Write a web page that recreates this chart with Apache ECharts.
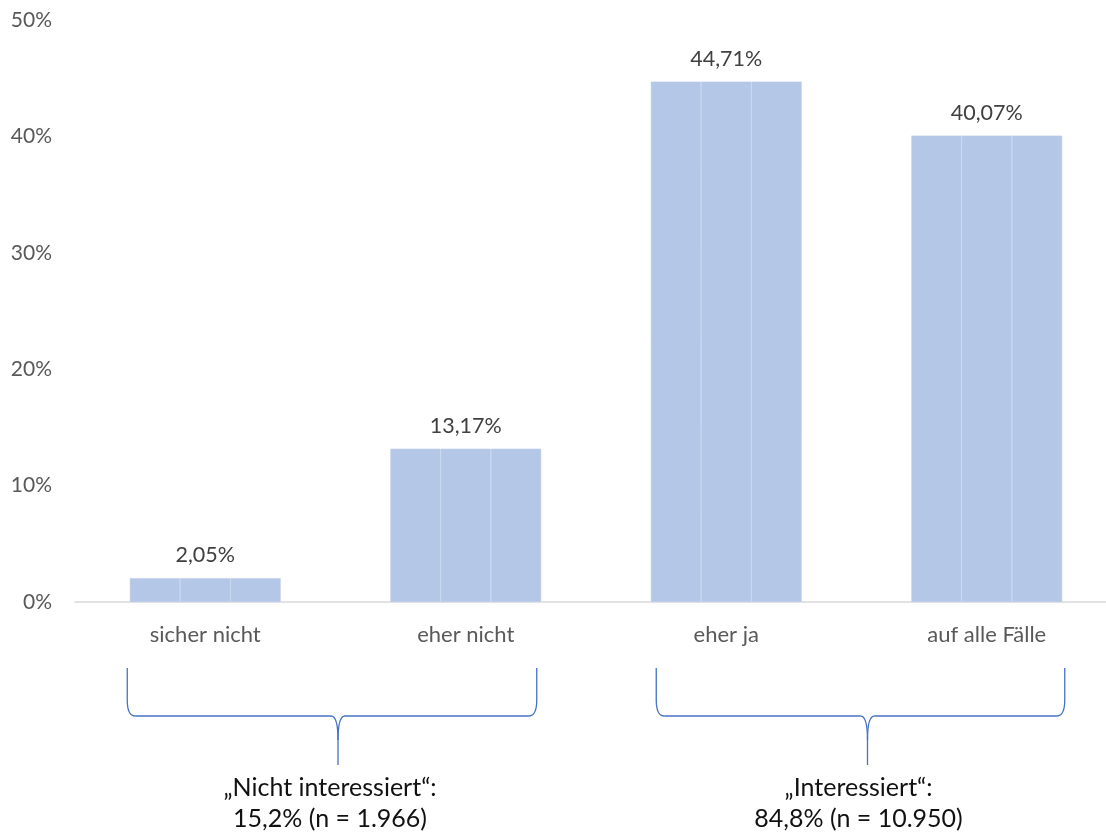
<!doctype html>
<html lang="de">
<head>
<meta charset="utf-8" />
<title>Interesse</title>
<script src="https://cdn.jsdelivr.net/npm/echarts@6/dist/echarts.min.js"></script>
<style>
  html, body { margin: 0; padding: 0; background: #fff; overflow: hidden; }
  /* etwas breiter als das Fenster: das Original ist rechts abgeschnitten */
  #main { width: 1117px; height: 834px; }
</style>
</head>
<body>
<div id="main"></div>
<script>
// Antwortkategorien und Anteile in %
var categories = ['sicher nicht', 'eher nicht', 'eher ja', 'auf alle Fälle'];
var values = [2.05, 13.17, 44.71, 40.07];
var yTicks = [0, 10, 20, 30, 40, 50];

// Zusammenfassungen unter der Achse (Klammern)
var groupFrom = [0, 2];
var groupTo = [1, 3];
var groupLine1 = ['\u201ENicht interessiert\u201C:', '\u201EInteressiert\u201C:'];
var groupLine2 = ['15,2% (n = 1.966)', '84,8% (n = 10.950)'];

var font = 'Lato, "Open Sans", sans-serif';
var barColor = '#b4c7e7';

function pct(v) {
  return v.toFixed(2).replace('.', ',') + '%';
}

var myChart = echarts.init(document.getElementById('main'));

// ein Balken aus drei schmalen Teilen (wie im Original sichtbar)
var series = [];
for (var i = 0; i < 3; i++) {
  series.push({
    type: 'bar',
    data: values,
    barWidth: 50.3,
    barGap: '0%',
    animation: false,
    itemStyle: { color: barColor, borderColor: '#bfd0ec', borderWidth: 0.6 },
    label: {
      show: i == 1,
      position: 'top',
      distance: 12,
      color: '#404040',
      fontSize: 21.5,
      fontFamily: font,
      formatter: function (p) { return pct(p.value); }
    }
  });
}

myChart.setOption({
  animation: false,
  grid: { left: 75, right: 0, top: 20, bottom: 232, containLabel: false },
  xAxis: {
    type: 'category',
    data: categories,
    axisLine: { lineStyle: { color: '#d9d9d9', width: 1.5 } },
    axisTick: { show: false },
    axisLabel: { color: '#595959', fontSize: 22, fontFamily: font, margin: 22 }
  },
  yAxis: {
    type: 'value',
    min: yTicks[0],
    max: yTicks[yTicks.length - 1],
    interval: 10,
    splitLine: { show: false },
    axisLine: { show: false },
    axisTick: { show: false },
    axisLabel: {
      color: '#595959', fontSize: 21, fontFamily: font, margin: 23,
      formatter: function (v) { return v + '%'; }
    }
  },
  series: series
});

// Klammern + Beschriftung unter den Kategorien
var braceStyle = { fill: null, stroke: '#4472c4', lineWidth: 1.3 };
var braceLeftOff = [-78, -70];
var braceRightOff = [71, 78];
var braceTipOff = [6, 7];

function braceParts(x1, x2, m, yTop, yMid, yTip) {
  var d = 24;
  function line(a, b, c, e) {
    return { type: 'line', shape: { x1: a, y1: b, x2: c, y2: e }, style: braceStyle };
  }
  function curve(a, b, c, e, p1, p2, p3, p4) {
    return { type: 'bezierCurve', shape: { x1: a, y1: b, x2: c, y2: e, cpx1: p1, cpy1: p2, cpx2: p3, cpy2: p4 }, style: braceStyle };
  }
  return [
    line(x1, yTop, x1, yMid - 16),
    curve(x1, yMid - 16, x1 + 8, yMid, x1, yMid - 6, x1 + 2, yMid),
    line(x1 + 8, yMid, m - 7, yMid),
    curve(m - 7, yMid, m, yMid + d, m - 2, yMid, m, yMid + 8),
    line(m, yMid + d, m, yTip),
    curve(m, yMid + d, m + 7, yMid, m, yMid + 8, m + 2, yMid),
    line(m + 7, yMid, x2 - 8, yMid),
    curve(x2 - 8, yMid, x2, yMid - 16, x2 - 2, yMid, x2, yMid - 6),
    line(x2, yMid - 16, x2, yTop)
  ];
}

var graphics = [];
for (var g = 0; g < groupFrom.length; g++) {
  var xa = myChart.convertToPixel({ xAxisIndex: 0 }, groupFrom[g]) + braceLeftOff[g];
  var xb = myChart.convertToPixel({ xAxisIndex: 0 }, groupTo[g]) + braceRightOff[g];
  var mid = (xa + xb) / 2;
  graphics = graphics.concat(braceParts(xa, xb, mid + braceTipOff[g], 668, 716, 765));
  graphics.push({
    type: 'text',
    x: mid - 2,
    y: 803,
    style: {
      text: groupLine1[g] + '\n' + groupLine2[g],
      fill: '#111', font: '25px ' + font,
      textAlign: 'center', textVerticalAlign: 'middle', lineHeight: 31
    }
  });
}
myChart.setOption({ graphic: graphics });
</script>
</body>
</html>
